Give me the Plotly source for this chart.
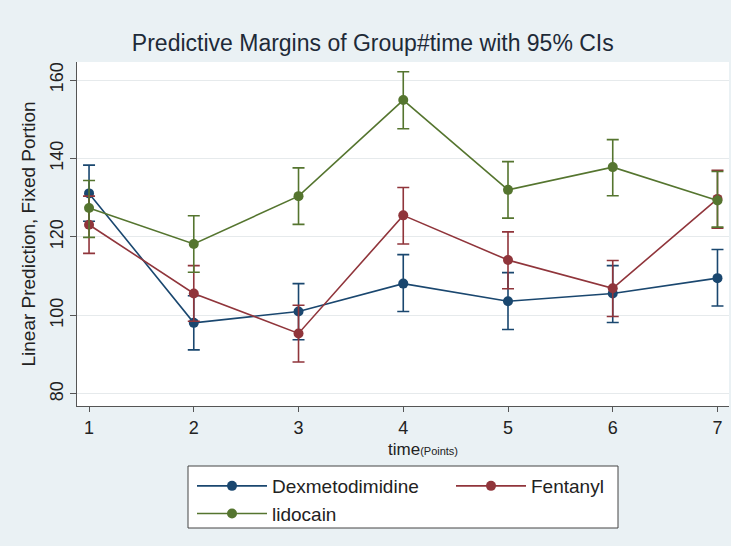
import plotly.graph_objects as go

time = [1, 2, 3, 4, 5, 6, 7]
groups = ["Dexmetodimidine", "Fentanyl", "lidocain"]
colors = ["#1a476f", "#90353b", "#55752f"]
legend_ids = ["legend", "legend2", "legend"]

dex_mean = [131.1, 98.1, 101.0, 108.1, 103.6, 105.6, 109.5]
dex_lo = [124.0, 91.2, 93.8, 101.0, 96.4, 98.2, 102.4]
dex_hi = [138.3, 105.0, 108.1, 115.5, 110.9, 112.7, 116.8]

fen_mean = [123.1, 105.6, 95.4, 125.5, 114.1, 106.9, 129.7]
fen_lo = [115.8, 98.5, 88.1, 118.2, 106.8, 99.7, 122.2]
fen_hi = [130.4, 112.7, 102.6, 132.6, 121.3, 114.0, 137.0]

lid_mean = [127.4, 118.2, 130.4, 154.9, 132.0, 137.8, 129.3]
lid_lo = [119.9, 111.0, 123.2, 147.6, 124.8, 130.5, 122.5]
lid_hi = [134.4, 125.4, 137.6, 162.1, 139.2, 144.8, 136.7]

means = [dex_mean, fen_mean, lid_mean]
los = [dex_lo, fen_lo, lid_lo]
his = [dex_hi, fen_hi, lid_hi]

W, H = 731, 546
L, R, T, B = 77, 2, 62, 140
pw, ph = W - L - R, H - T - B


def px_x(p):
    return (p - L) / pw


def px_y(p):
    return (H - B - p) / ph


font = "Liberation Sans, Arial, sans-serif"
fig = go.Figure()
for name, c, m, lo, hi, lg in zip(groups, colors, means, los, his, legend_ids):
    fig.add_trace(go.Scatter(
        x=time, y=m, name=name, mode="lines+markers", legend=lg,
        line=dict(color=c, width=1.6),
        marker=dict(color=c, size=10),
        error_y=dict(type="data", symmetric=False,
                     array=[h - v for h, v in zip(hi, m)],
                     arrayminus=[v - l for l, v in zip(lo, m)],
                     color=c, thickness=1.6, width=6),
    ))

leg_common = dict(orientation="v", xanchor="left", yanchor="top",
                  bgcolor="rgba(0,0,0,0)", borderwidth=0,
                  font=dict(size=19, color="#222222"), itemwidth=70,
                  tracegroupgap=0)

fig.add_shape(type="rect", xref="paper", yref="paper",
              x0=px_x(188), x1=px_x(618), y0=px_y(528), y1=px_y(466),
              line=dict(color="#444444", width=1), fillcolor="white", layer="below")

fig.add_annotation(text="time<span style='font-size:11px'>(Points)</span>",
                   xref="paper", yref="paper", x=px_x(423), y=px_y(449),
                   xanchor="center", yanchor="middle", showarrow=False,
                   font=dict(size=17, color="#222222"))

fig.update_layout(
    width=W, height=H,
    margin=dict(l=L, r=R, t=T, b=B),
    paper_bgcolor="#eaf1f4", plot_bgcolor="white",
    font=dict(family=font, color="#222222"),
    title=dict(text="Predictive Margins of Group#time with 95% CIs",
               x=0.51, xanchor="center", y=0.921, yanchor="middle",
               font=dict(size=23, color="#1e2a38")),
    showlegend=True,
    legend=dict(x=px_x(192), y=px_y(467), **leg_common),
    legend2=dict(x=px_x(451), y=px_y(467), **leg_common),
    xaxis=dict(range=[0.885, 7.11], tickvals=time, ticks="outside", ticklen=5,
               tickcolor="#555555", showgrid=False, showline=True,
               linecolor="#555555", linewidth=1, zeroline=False,
               tickfont=dict(size=18, color="#222222")),
    yaxis=dict(range=[76.9, 164.6], tickvals=[80, 100, 120, 140, 160],
               ticks="outside", ticklen=6, tickcolor="#555555", tickangle=-90,
               showgrid=True, gridcolor="#e6eaec", gridwidth=1,
               showline=True, linecolor="#555555", linewidth=1, zeroline=False,
               tickfont=dict(size=18, color="#222222"),
               title=dict(text="Linear Prediction, Fixed Portion",
                          font=dict(size=19, color="#222222"), standoff=6)),
)
fig.write_html("out.html", config={"displayModeBar": False},
               post_script="document.body.style.margin='0';document.body.style.overflow='hidden';")
